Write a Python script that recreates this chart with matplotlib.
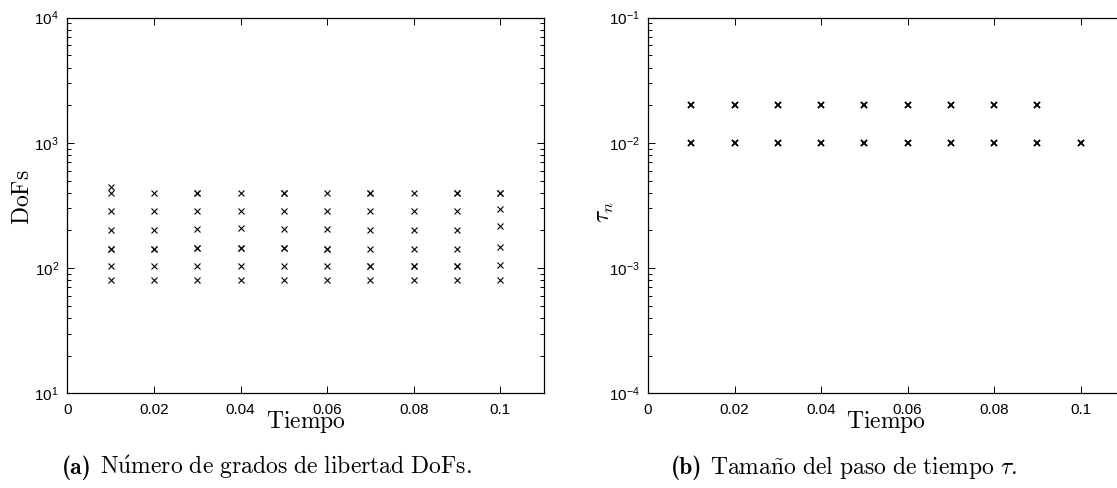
import matplotlib
matplotlib.use("Agg")
import matplotlib.pyplot as plt
from matplotlib.ticker import LogLocator, FixedLocator, FixedFormatter, NullFormatter

# ---------------- data ----------------
t_steps = [0.01, 0.02, 0.03, 0.04, 0.05, 0.06, 0.07, 0.08, 0.09, 0.10]

dofs_by_step = [
    [442, 396, 286, 201, 142, 142, 104, 81],
    [396, 286, 201, 142, 142, 104, 81],
    [396, 396, 286, 205, 146, 146, 104, 81],
    [396, 286, 208, 146, 146, 104, 81],
    [396, 396, 286, 205, 146, 146, 104, 81],
    [396, 286, 205, 142, 142, 104, 81],
    [396, 396, 286, 201, 142, 104, 104, 81],
    [396, 286, 201, 142, 104, 104, 81],
    [396, 396, 286, 201, 142, 104, 104, 81],
    [396, 396, 297, 217, 148, 106, 81],
]

tau_by_step = [
    [0.02, 0.02, 0.01, 0.01],
    [0.02, 0.02, 0.01, 0.01],
    [0.02, 0.02, 0.01, 0.01],
    [0.02, 0.02, 0.01, 0.01],
    [0.02, 0.02, 0.01, 0.01],
    [0.02, 0.02, 0.01, 0.01],
    [0.02, 0.02, 0.01, 0.01],
    [0.02, 0.02, 0.01, 0.01],
    [0.02, 0.02, 0.01, 0.01],
    [0.01, 0.01],
]

xtick_values = [0, 0.02, 0.04, 0.06, 0.08, 0.1]
xtick_labels = ["0", "0.02", "0.04", "0.06", "0.08", "0.1"]

caption_a_tag = "(a)"
caption_a_text = r"$\mathrm{N\acute{u}mero\ de\ grados\ de\ libertad\ DoFs.}$"
caption_b_tag = "(b)"
caption_b_text = r"$\mathrm{Tama\tilde{n}o\ del\ paso\ de\ tiempo}\ \tau.$"

# ---------------- style ----------------
plt.rcParams["font.family"] = ["Liberation Sans", "DejaVu Sans"]
plt.rcParams["mathtext.fontset"] = "custom"
plt.rcParams["mathtext.rm"] = "Liberation Sans"
plt.rcParams["mathtext.it"] = "Liberation Sans:italic"
plt.rcParams["mathtext.bf"] = "Liberation Sans:bold"

W, H = 1117, 488
fig = plt.figure(figsize=(W / 100, H / 100), dpi=100)

def px_rect(x0, x1, y0, y1):
    return [x0 / W, 1 - y1 / H, (x1 - x0) / W, (y1 - y0) / H]

axL = fig.add_axes(px_rect(67.3, 543.6, 17.7, 393.3))
axR = fig.add_axes(px_rect(648, 1124, 17.7, 393.3))


def style_axis(ax, ylo, yhi):
    ax.set_yscale("log")
    ax.set_xlim(0, 0.11)
    ax.set_ylim(ylo, yhi)
    ax.xaxis.set_major_locator(FixedLocator(xtick_values))
    ax.xaxis.set_major_formatter(FixedFormatter(xtick_labels))
    ax.yaxis.set_major_locator(LogLocator(base=10, numticks=10))
    ax.yaxis.set_minor_locator(LogLocator(base=10, subs=range(2, 10), numticks=20))
    ax.yaxis.set_minor_formatter(NullFormatter())
    ax.tick_params(which="both", direction="in", top=True, right=True,
                   labelsize=11, width=0.7, color="black")
    ax.tick_params(axis="x", which="both", pad=7)
    ax.tick_params(axis="y", which="both", pad=6)
    ax.tick_params(which="major", length=5)
    ax.tick_params(which="minor", length=3)
    for s in ax.spines.values():
        s.set_linewidth(0.9)


for t, vals in zip(t_steps, dofs_by_step):
    axL.plot([t] * len(vals), vals, linestyle="none", marker="x",
             markersize=4, markeredgewidth=0.8, color="black")
style_axis(axL, 10, 1e4)

for t, vals in zip(t_steps, tau_by_step):
    axR.plot([t] * len(vals), vals, linestyle="none", marker="x",
             markersize=4, markeredgewidth=1.1, color="black")
style_axis(axR, 1e-4, 1e-1)

# axis labels (Computer Modern look)
fig.text(305.5 / W, 1 - 428 / H, r"$\mathrm{Tiempo}$", ha="center", va="baseline",
         fontsize=17, math_fontfamily="cm")
fig.text(886 / W, 1 - 428 / H, r"$\mathrm{Tiempo}$", ha="center", va="baseline",
         fontsize=17, math_fontfamily="cm")
fig.text(23 / W, 1 - 197 / H, r"$\mathrm{DoFs}$", ha="center", va="center",
         rotation=90, fontsize=17, math_fontfamily="cm")
fig.text(605 / W, 1 - 212 / H, r"$\tau_n$", ha="center", va="center",
         rotation=90, fontsize=17, math_fontfamily="cm")

# captions: bold tag + regular text, centred as a unit
renderer = fig.canvas.get_renderer()


def caption(cx, base_y, tag, body):
    t1 = fig.text(0, 1 - base_y / H, tag, family="cmb10", fontsize=17,
                  ha="left", va="baseline")
    t2 = fig.text(0, 1 - base_y / H, body, fontsize=17, math_fontfamily="cm",
                  ha="left", va="baseline")
    w1 = t1.get_window_extent(renderer).width
    w2 = t2.get_window_extent(renderer).width
    gap = 8.0
    x0 = cx - (w1 + gap + w2) / 2
    t1.set_x(x0 / W)
    t2.set_x((x0 + w1 + gap) / W)


caption(267, 474, caption_a_tag, caption_a_text)
caption(844, 474, caption_b_tag, caption_b_text)

fig.savefig("out.png", dpi=100, facecolor="white")
